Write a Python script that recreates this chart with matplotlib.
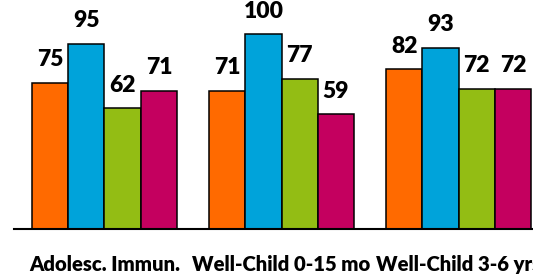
import matplotlib.pyplot as plt
import numpy as np

categories = ["Adolesc. Immun.", "Well-Child 0-15 mo", "Well-Child 3-6 yrs"]
series_a = [75, 71, 82]
series_b = [95, 100, 93]
series_c = [62, 77, 72]
series_d = [71, 59, 72]
colors = ["#FF6A00", "#00A3DA", "#93BD14", "#C4005F"]

plt.rcParams['font.family'] = ['Lato', 'DejaVu Sans']

fig = plt.figure(figsize=(5.33, 2.75), dpi=100)
ax = fig.add_axes([14 / 533, 46 / 275, 519 / 533, 229 / 275])

x = np.arange(len(categories))
w = 0.205
for i, (vals, c) in enumerate(zip([series_a, series_b, series_c, series_d], colors)):
    pos = x + (i - 1.5) * w
    ax.bar(pos, vals, width=w, color=c, edgecolor="black", linewidth=1.1)
    for p, v in zip(pos, vals):
        ax.text(p, v + 8.4, str(v), ha="center", va="baseline",
                fontsize=16.5, fontweight="heavy")

ax.set_xlim(-0.511, 2.42)
ax.set_ylim(0, 117.4)
ax.set_yticks([])
ax.set_xticks(x)
labels = ax.set_xticklabels(categories, fontsize=12.5, fontweight="heavy")
ax.tick_params(axis="x", length=0, pad=19)
for s in ["top", "right", "left"]:
    ax.spines[s].set_visible(False)
ax.spines["bottom"].set_linewidth(1.5)

# size the category labels so the first one is about 152 px wide, like the original
r = fig.canvas.get_renderer()
wpx = labels[0].get_window_extent(r).width
size = 12.5 * 152 / wpx
for t in labels:
    t.set_fontsize(size)

fig.savefig("out.png", dpi=100)
